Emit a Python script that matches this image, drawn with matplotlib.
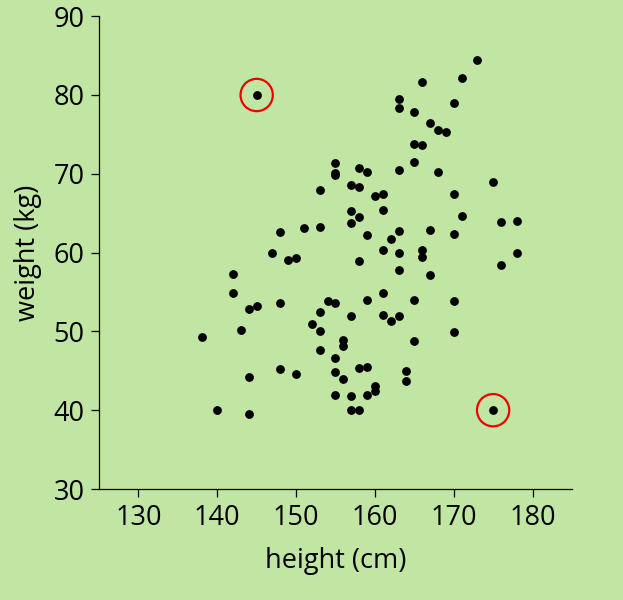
import matplotlib.pyplot as plt
from matplotlib.patches import Circle

# heights (cm) and weights (kg) of the sample
height = [
    173, 171, 166, 163, 163, 170, 165, 167, 168, 169,
    165, 166, 165, 155, 155, 155, 158, 159, 163, 168,
    175, 153, 157, 158, 160, 161, 170, 157, 158, 157,
    161, 171, 176, 178, 148, 151, 153, 159, 162, 163,
    167, 170, 147, 149, 150, 161, 163, 166, 166, 178,
    176, 158, 142, 163, 167, 142, 161, 144, 145, 148,
    154, 155, 159, 165, 170, 153, 157, 161, 163, 162,
    152, 153, 143, 138, 170, 156, 156, 165, 153, 155,
    155, 156, 158, 159, 148, 150, 144, 164, 164, 160,
    160, 155, 157, 159, 157, 158, 140, 144,
]
weight = [
    84.4, 82.1, 81.6, 79.5, 78.3, 79.0, 77.8, 76.5, 75.5, 75.3,
    73.8, 73.6, 71.5, 71.4, 70.1, 69.8, 70.7, 70.2, 70.5, 70.2,
    68.9, 67.9, 68.6, 68.3, 67.2, 67.4, 67.5, 65.3, 64.5, 63.8,
    65.4, 64.7, 63.9, 64.0, 62.6, 63.1, 63.2, 62.2, 61.7, 62.8,
    62.9, 62.3, 60.0, 59.1, 59.3, 60.3, 60.0, 60.3, 59.5, 60.0,
    58.4, 58.9, 57.3, 57.8, 57.1, 54.9, 54.9, 52.9, 53.2, 53.6,
    53.9, 53.6, 54.0, 54.0, 53.9, 52.5, 52.0, 52.1, 51.9, 51.3,
    51.0, 50.1, 50.2, 49.3, 49.9, 48.9, 48.2, 48.8, 47.7, 46.6,
    44.9, 44.0, 45.4, 45.5, 45.2, 44.6, 44.2, 45.0, 43.7, 43.1,
    42.4, 41.9, 41.8, 41.9, 40.0, 40.0, 40.0, 39.5,
]

# the two circled outliers
outlier_height = [145, 175]
outlier_weight = [80, 40]

xticks = [130, 140, 150, 160, 170, 180]
yticks = [30, 40, 50, 60, 70, 80, 90]

BG = "#c1e6a3"

plt.rcParams["font.family"] = ["Open Sans", "DejaVu Sans"]

fig = plt.figure(figsize=(6.23, 6.0), dpi=100, facecolor=BG)
ax = fig.add_axes([0.159, 0.185, 0.759, 0.788])
ax.set_facecolor(BG)

ax.scatter(height + outlier_height, weight + outlier_weight,
           s=40, color="black", linewidths=0, zorder=3)
for h, w in zip(outlier_height, outlier_weight):
    ax.add_patch(Circle((h, w), 2.05, fill=False, edgecolor="#ee0000",
                        linewidth=1.6, zorder=4))

ax.set_xlim(125, 185)
ax.set_ylim(30, 90)
ax.set_xticks(xticks)
ax.set_yticks(yticks)
ax.set_xlabel("height (cm)", fontsize=19.5, labelpad=11)
ax.set_ylabel("weight (kg)", fontsize=19.5, labelpad=8)

for side in ("top", "right"):
    ax.spines[side].set_visible(False)
for side in ("left", "bottom"):
    ax.spines[side].set_linewidth(0.9)
ax.tick_params(direction="out", length=5.5, width=0.9,
               labelsize=19.5, pad=5)

fig.savefig("out.png", dpi=100, facecolor=BG)
